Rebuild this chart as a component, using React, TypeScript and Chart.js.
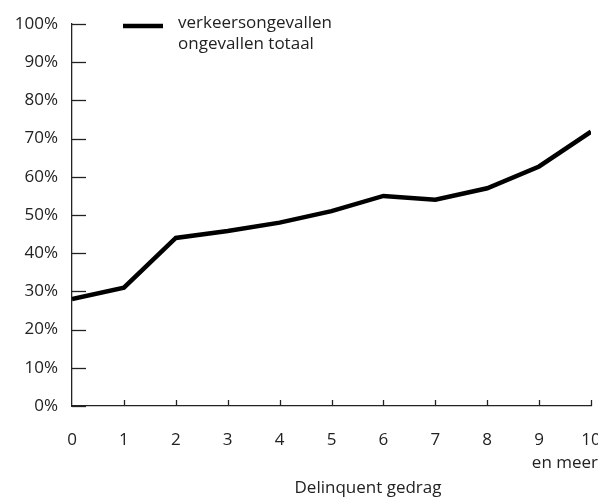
import React, { useEffect, useRef } from "react";
import { Chart, registerables } from "chart.js";

Chart.register(...registerables);

const categories = [0, 1, 2, 3, 4, 5, 6, 7, 8, 9, 10];
const xTickLabels = ["0", "1", "2", "3", "4", "5", "6", "7", "8", "9", "10"];
const values = [28, 31, 44, 45.8, 48, 51, 55, 54, 57, 62.7, 71.8];
const yTickValues = [0, 10, 20, 30, 40, 50, 60, 70, 80, 90, 100];
const legendLines = ["verkeersongevallen", "ongevallen totaal"];
const xTitle = "Delinquent gedrag";
const lastTickNote = "en meer";

const FONT = "'Open Sans', 'DejaVu Sans', sans-serif";
const TEXT = "#222";
const FS = 17;

export default function App() {
  const ref = useRef<HTMLCanvasElement | null>(null);

  useEffect(() => {
    document.body.style.margin = "0";
    const canvas = ref.current;
    if (!canvas) return;

    const decor = {
      id: "decor",
      afterDraw(chart: any) {
        const ctx = chart.ctx;
        const xs = chart.scales.x;
        const ys = chart.scales.y;
        const area = chart.chartArea;
        ctx.save();
        ctx.strokeStyle = "#222";
        ctx.lineWidth = 1.3;
        // y tick marks (inside)
        yTickValues.forEach((v) => {
          const py = Math.round(ys.getPixelForValue(v)) + 0.5;
          ctx.beginPath();
          ctx.moveTo(area.left, py);
          ctx.lineTo(area.left + 14, py);
          ctx.stroke();
        });
        // x tick marks (inside)
        categories.forEach((c) => {
          if (c === 0) return;
          const px = Math.round(xs.getPixelForValue(c)) + 0.5;
          ctx.beginPath();
          ctx.moveTo(px, area.bottom);
          ctx.lineTo(px, area.bottom - 6);
          ctx.stroke();
        });
        ctx.fillStyle = TEXT;
        ctx.font = `${FS}px ${FONT}`;
        ctx.textBaseline = "middle";
        // note under last tick
        ctx.textAlign = "right";
        ctx.fillText(lastTickNote, 598, 463);
        // axis title
        ctx.textAlign = "center";
        ctx.fillText(xTitle, 368, 488);
        // legend
        ctx.strokeStyle = "#000";
        ctx.lineWidth = 4.5;
        ctx.beginPath();
        ctx.moveTo(123, 26);
        ctx.lineTo(163, 26);
        ctx.stroke();
        ctx.textAlign = "left";
        ctx.fillText(legendLines[0], 178, 23);
        ctx.fillText(legendLines[1], 178, 44);
        ctx.restore();
      },
    };

    const chart = new Chart(canvas, {
      type: "line",
      data: {
        datasets: [
          {
            label: legendLines.join(" "),
            data: categories.map((c, i) => ({ x: c, y: values[i] })),
            borderColor: "#000",
            borderWidth: 4.5,
            pointRadius: 0,
            tension: 0,
            fill: false,
          },
        ],
      },
      options: {
        responsive: false,
        animation: false,
        layout: { padding: { top: 24, right: 7, left: 0, bottom: 0 } },
        plugins: { legend: { display: false }, tooltip: { enabled: false } },
        scales: {
          x: {
            type: "linear",
            min: 0,
            max: 10,
            grid: { display: false, drawTicks: false },
            border: { display: true, color: "#222", width: 1.3 },
            ticks: {
              stepSize: 1,
              padding: 24,
              color: TEXT,
              font: { size: FS, family: FONT },
              maxRotation: 0,
              autoSkip: false,
              callback: (v: any) => xTickLabels[Number(v)] ?? "",
            },
            afterFit: (s: any) => {
              s.height = 92;
              s.paddingLeft = 0;
              s.paddingRight = 0;
            },
          },
          y: {
            min: 0,
            max: 100,
            grid: { display: false, drawTicks: false },
            border: { display: true, color: "#222", width: 1.3 },
            ticks: {
              stepSize: 10,
              padding: 14,
              color: TEXT,
              font: { size: FS, family: FONT },
              autoSkip: false,
              callback: (v: any) => `${v}%`,
            },
            afterFit: (s: any) => {
              s.width = 72;
              s.paddingTop = 0;
              s.paddingBottom = 0;
            },
          },
        },
      },
      plugins: [decor],
    });

    return () => chart.destroy();
  }, []);

  return (
    <div style={{ width: 598, height: 498 }}>
      <canvas ref={ref} width={598} height={498} />
    </div>
  );
}
